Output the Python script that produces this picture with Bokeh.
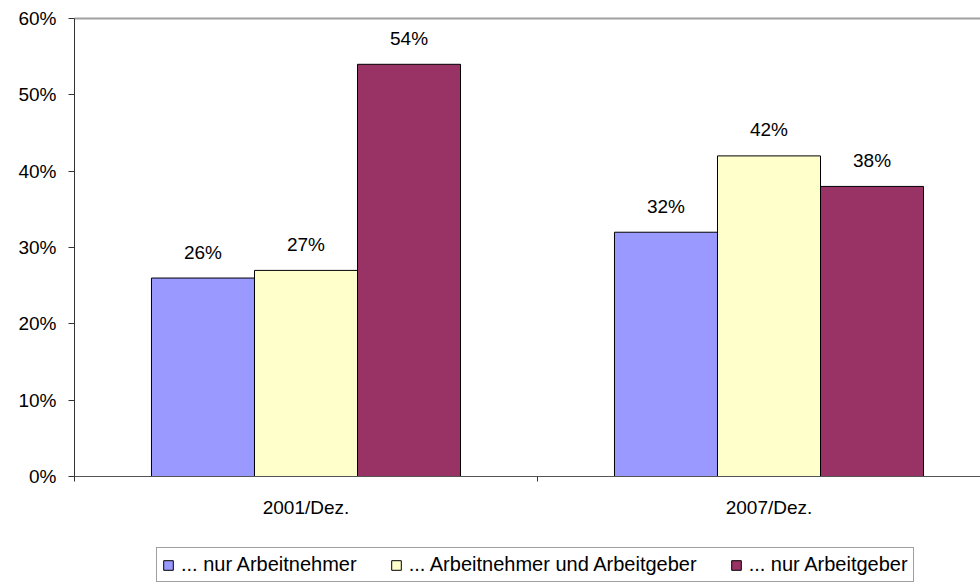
from bokeh.plotting import figure
from bokeh.layouts import column
from bokeh.models import (Range1d, FixedTicker, NumeralTickFormatter, LinearAxis,
                          ColumnDataSource, Legend, LegendItem)
from bokeh.transform import dodge
from bokeh.core.properties import value
from bokeh.embed import file_html
from bokeh.resources import INLINE

# ---- data ----
categories = ["2001/Dez.", "2007/Dez."]
category_pos = [0.5, 1.5]
series_names = ["... nur Arbeitnehmer", "... Arbeitnehmer und Arbeitgeber", "... nur Arbeitgeber"]
nur_arbeitnehmer = [0.26, 0.32]
arbeitnehmer_und_arbeitgeber = [0.27, 0.42]
nur_arbeitgeber = [0.54, 0.38]
y_ticks = [0.0, 0.1, 0.2, 0.3, 0.4, 0.5, 0.6]

# ---- style ----
colors = ["#9999FF", "#FFFFCC", "#993366"]
FONT = "Liberation Sans"
FS = "19px"
LEG_FS = "20px"
BAR_W = 0.2225
X_END = 906 / 463

def pct(vals):
    return [f"{round(v * 100)}%" for v in vals]

src = ColumnDataSource(dict(
    x=category_pos,
    s0=nur_arbeitnehmer, s1=arbeitnehmer_und_arbeitgeber, s2=nur_arbeitgeber,
    l0=pct(nur_arbeitnehmer), l1=pct(arbeitnehmer_und_arbeitgeber), l2=pct(nur_arbeitgeber),
))

# ---------------- main chart ----------------
p = figure(width=980, height=530, output_backend="svg", toolbar_location=None, tools="",
           x_range=Range1d(0, X_END), y_range=Range1d(0, 0.6),
           x_axis_type=None, y_axis_type=None,
           min_border_left=74, min_border_right=0, min_border_top=18, min_border_bottom=54)
p.outline_line_color = None
p.background_fill_color = "white"
p.border_fill_color = "white"
p.xgrid.visible = False
p.ygrid.visible = False

# y axis
yax = LinearAxis(ticker=FixedTicker(ticks=y_ticks), formatter=NumeralTickFormatter(format="0%"))
yax.axis_line_color = "#333333"
yax.axis_line_width = 1
yax.major_tick_line_color = "#333333"
yax.major_tick_out = 6
yax.major_tick_in = 0
yax.minor_tick_out = 0
yax.minor_tick_in = 0
yax.major_label_standoff = 12
yax.major_label_text_font = FONT
yax.major_label_text_font_size = FS
yax.major_label_text_color = "black"
p.add_layout(yax, "left")

# x axis (labels at category centres, tick marks between categories)
xax = LinearAxis(ticker=FixedTicker(ticks=category_pos, minor_ticks=[0, 1, 2]))
xax.major_label_overrides = {pos: lab for pos, lab in zip(category_pos, categories)}
xax.axis_line_color = "#555555"
xax.axis_line_width = 1
xax.major_tick_out = 0
xax.major_tick_in = 0
xax.minor_tick_out = 5
xax.minor_tick_in = 0
xax.minor_tick_line_color = "#333333"
xax.major_label_standoff = 15
xax.major_label_text_font = FONT
xax.major_label_text_font_size = FS
xax.major_label_text_color = "black"
p.add_layout(xax, "below")

# top border line
tax = LinearAxis(ticker=FixedTicker(ticks=[]))
tax.axis_line_color = "#a0a0a0"
tax.axis_line_width = 2
tax.major_tick_out = 0
tax.major_tick_in = 0
tax.minor_tick_out = 0
tax.minor_tick_in = 0
tax.major_label_standoff = 0
tax.major_label_text_font_size = "0px"
p.add_layout(tax, "above")

offsets = [-BAR_W, 0.0, BAR_W]
for i, (col, off) in enumerate(zip(colors, offsets)):
    p.vbar(x=dodge("x", off), top=f"s{i}", width=BAR_W, source=src,
           fill_color=col, line_color="black", line_width=1)
    p.text(x=dodge("x", off), y=f"s{i}", text=f"l{i}", source=src,
           text_align="center", text_baseline="middle", y_offset=-26,
           text_font=value(FONT), text_font_size=value(FS), text_color="black")

# ---------------- legend strip ----------------
# same series, drawn out of this strip's view range; only the legend shows
p2 = figure(width=980, height=54, output_backend="svg", toolbar_location=None, tools="",
            x_range=Range1d(0, X_END), y_range=Range1d(5, 6),
            x_axis_type=None, y_axis_type=None,
            min_border_left=74, min_border_right=0, min_border_top=0, min_border_bottom=0)
p2.outline_line_color = None
p2.background_fill_color = "white"
p2.border_fill_color = "white"

items = []
for i, (name, col, off) in enumerate(zip(series_names, colors, offsets)):
    r = p2.vbar(x=dodge("x", off), top=f"s{i}", width=BAR_W, source=src,
                fill_color=col, line_color="black", line_width=1)
    items.append(LegendItem(label=name, renderers=[r], index=0))

legend = Legend(items=items, orientation="horizontal", location=(82, 2))
legend.margin = 0
legend.padding = 5
legend.spacing = 33
legend.label_standoff = 7
legend.glyph_width = 12
legend.glyph_height = 12
legend.label_text_font = FONT
legend.label_text_font_size = LEG_FS
legend.label_text_color = "black"
legend.border_line_color = "#404040"
legend.border_line_width = 1
legend.background_fill_color = "white"
legend.background_fill_alpha = 1
p2.add_layout(legend)

layout = column(p, p2, spacing=0)
open("out.html", "w").write(file_html(layout, INLINE))
